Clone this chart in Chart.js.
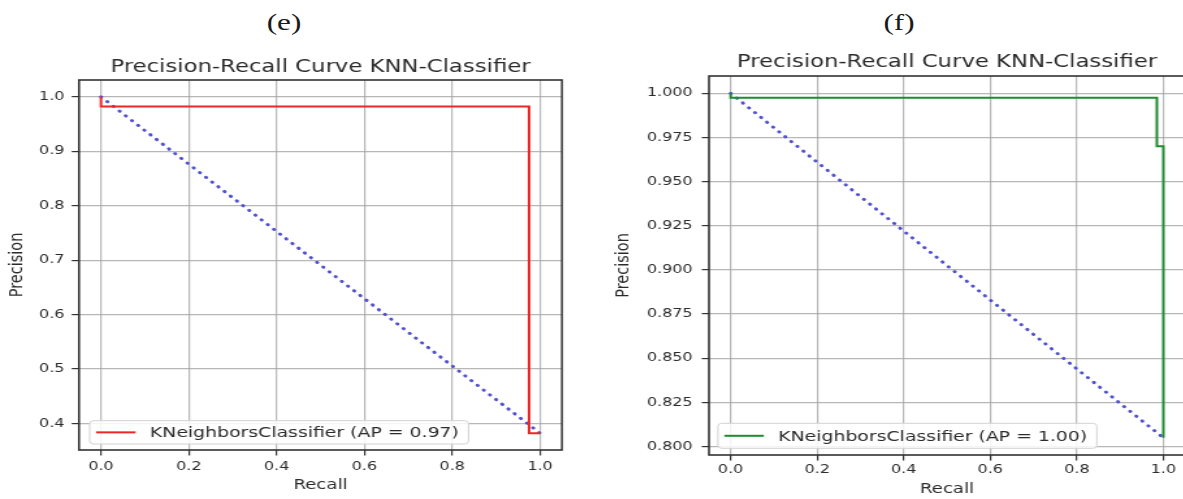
<!DOCTYPE html>
<html>
<head>
<meta charset="utf-8">
<script src="https://cdn.jsdelivr.net/npm/chart.js@4.4.1/dist/chart.umd.min.js"></script>
<style>
  html, body { margin: 0; padding: 0; background: #fff; overflow: hidden; width: 1183px; height: 499px; }
  .panel { position: absolute; transform: scaleX(1.3); transform-origin: 0 0; }
  .tag { position: absolute; width: 80px; text-align: center; font: 24px "Liberation Serif", serif; color: #1a1a1a; transform: scaleX(1.3); }
</style>
</head>
<body>
<div class="tag" style="left:244px; top:9px;">(e)</div>
<div class="tag" style="left:859px; top:9px;">(f)</div>
<div class="panel" style="left:0px; top:40px;"><canvas id="pr-e" width="460" height="459"></canvas></div>
<div class="panel" style="left:605px; top:36px;"><canvas id="pr-f" width="447" height="463"></canvas></div>
<script>
// (e) precision / recall steps, recall descending
const recallE = [1.0, 0.975, 0.0];
const precisionE = [0.382, 0.982, 1.0];
const labelE = "KNeighborsClassifier (AP = 0.97)";

// (f) precision / recall steps, recall descending
const recallF = [1.0, 1.0, 0.985, 0.0];
const precisionF = [0.805, 0.970, 0.9975, 1.0];
const labelF = "KNeighborsClassifier (AP = 1.00)";

// dotted reference line from (0, 1) to (1, min precision)
const diagRecall = [0.0, 1.0];
const diagE = [1.0, 0.382];
const diagF = [1.0, 0.805];

const recallTicks = [0.0, 0.2, 0.4, 0.6, 0.8, 1.0];
const precisionTicksE = [0.4, 0.5, 0.6, 0.7, 0.8, 0.9, 1.0];
const precisionTicksF = [0.800, 0.825, 0.850, 0.875, 0.900, 0.925, 0.950, 0.975, 1.000];

const FONT = "DejaVu Sans";
const TEXT = "#2b2b2b";

// matplotlib style 5% margins
function padded(vals) {
  const lo = Math.min(...vals), hi = Math.max(...vals);
  const m = (hi - lo) * 0.05;
  return [lo - m, hi + m];
}

function pts(xs, ys) {
  return xs.map((x, i) => ({ x: x, y: ys[i] }));
}

// box around the axes
const frame = {
  id: "frame",
  afterDatasetsDraw(chart) {
    const { ctx, chartArea: a } = chart;
    ctx.save();
    ctx.strokeStyle = "#333";
    ctx.lineWidth = 1.6;
    ctx.strokeRect(a.left, a.top, a.right - a.left, a.bottom - a.top);
    ctx.restore();
  }
};

// lower-left legend like pyplot's
const legendBox = {
  id: "legendBox",
  afterDraw(chart, args, opts) {
    const { ctx, chartArea: a } = chart;
    const ds = chart.data.datasets[0];
    ctx.save();
    ctx.font = opts.size + "px " + FONT;
    const tw = ctx.measureText(ds.label).width;
    const w = 4.9 + 30.4 + 11 + tw + 7.4;
    const h = opts.height;
    const x = a.left + opts.dx;
    const y = a.bottom - opts.dy - h;
    ctx.beginPath();
    ctx.roundRect(x, y, w, h, 3);
    ctx.fillStyle = "rgba(255,255,255,0.85)";
    ctx.fill();
    ctx.strokeStyle = "#d2d2d2";
    ctx.lineWidth = 1;
    ctx.stroke();
    ctx.beginPath();
    ctx.moveTo(x + 4.9, y + h / 2);
    ctx.lineTo(x + 4.9 + 30.4, y + h / 2);
    ctx.strokeStyle = ds.borderColor;
    ctx.lineWidth = 2;
    ctx.stroke();
    ctx.fillStyle = TEXT;
    ctx.textBaseline = "middle";
    ctx.fillText(ds.label, x + 4.9 + 30.4 + 11, y + h / 2 + 1);
    ctx.restore();
  }
};

function makeChart(id, cfg) {
  const xr = [-0.05, 1.05];
  const yr = padded(cfg.prec);
  return new Chart(document.getElementById(id), {
    type: "line",
    data: {
      datasets: [
        {
          label: cfg.label,
          data: pts(cfg.rec, cfg.prec),
          borderColor: cfg.color,
          borderWidth: 2,
          stepped: "before",
          pointRadius: 0,
          fill: false
        },
        {
          label: "",
          data: pts(diagRecall, cfg.diag),
          borderColor: "rgb(80,80,208)",
          borderWidth: 2.9,
          borderDash: [0.4, 6.3],
          borderCapStyle: "round",
          pointRadius: 0,
          fill: false
        }
      ]
    },
    plugins: [frame, legendBox],
    options: {
      responsive: false,
      animation: false,
      layout: { padding: { left: 0, right: cfg.padRight, top: 0, bottom: 0 } },
      plugins: {
        legend: { display: false },
        tooltip: { enabled: false },
        title: {
          display: true,
          fullSize: false,
          text: "Precision-Recall Curve KNN-Classifier",
          color: TEXT,
          font: { family: FONT, size: 17.5, weight: "normal" },
          padding: { top: cfg.titleTop, bottom: cfg.titleBottom }
        },
        legendBox: { size: 14.5, height: cfg.legendH, dx: cfg.legendDx, dy: cfg.legendDy }
      },
      scales: {
        x: {
          type: "linear",
          min: xr[0],
          max: xr[1],
          afterBuildTicks: (s) => { s.ticks = recallTicks.map((v) => ({ value: v })); },
          afterFit: (s) => { s.height = cfg.xHeight; },
          ticks: {
            autoSkip: false,
            maxRotation: 0,
            padding: cfg.xTickPad,
            color: TEXT,
            font: { family: FONT, size: 12.3 },
            callback: (v) => Number(v).toFixed(1)
          },
          grid: { color: "rgba(165,165,165,0.8)", lineWidth: 1.2, tickColor: "#333", tickLength: 5.5, tickWidth: 1.2 },
          border: { display: false },
          title: {
            display: true,
            text: "Recall",
            color: TEXT,
            font: { family: FONT, size: 14 },
            padding: { top: 0, bottom: cfg.xTitlePad }
          }
        },
        y: {
          type: "linear",
          min: yr[0],
          max: yr[1],
          afterBuildTicks: (s) => { s.ticks = cfg.yTicks.map((v) => ({ value: v })); },
          afterFit: (s) => { s.width = cfg.yWidth; },
          ticks: {
            autoSkip: false,
            padding: cfg.yTickPad,
            color: TEXT,
            font: { family: FONT, size: 12.3 },
            callback: (v) => Number(v).toFixed(cfg.digits)
          },
          grid: { color: "rgba(165,165,165,0.8)", lineWidth: 1.2, tickColor: "#333", tickLength: 5.6, tickWidth: 1.2 },
          border: { display: false },
          title: {
            display: true,
            text: "Precision",
            color: TEXT,
            font: { family: FONT, size: 14.5 },
            padding: { top: cfg.yTitlePad, bottom: 0 }
          }
        }
      }
    }
  });
}

makeChart("pr-e", {
  rec: recallE, prec: precisionE, diag: diagE, label: labelE, color: "rgb(238,38,38)",
  yTicks: precisionTicksE, digits: 1,
  yWidth: 60.77, padRight: 27.7, xHeight: 49,
  titleTop: 17, titleBottom: 2,
  xTickPad: 4, xTitlePad: 5, yTickPad: 5.5, yTitlePad: 4.5,
  legendH: 23.3, legendDx: 8.2, legendDy: 6
});

makeChart("pr-f", {
  rec: recallF, prec: precisionF, diag: diagF, label: labelF, color: "rgb(30,140,48)",
  yTicks: precisionTicksF, digits: 3,
  yWidth: 80, padRight: 0.85, xHeight: 44,
  titleTop: 16, titleBottom: 3,
  xTickPad: 2, xTitlePad: 1.6, yTickPad: 7, yTitlePad: 5.4,
  legendH: 25, legendDx: 6.9, legendDy: 6.7
});
</script>
</body>
</html>
